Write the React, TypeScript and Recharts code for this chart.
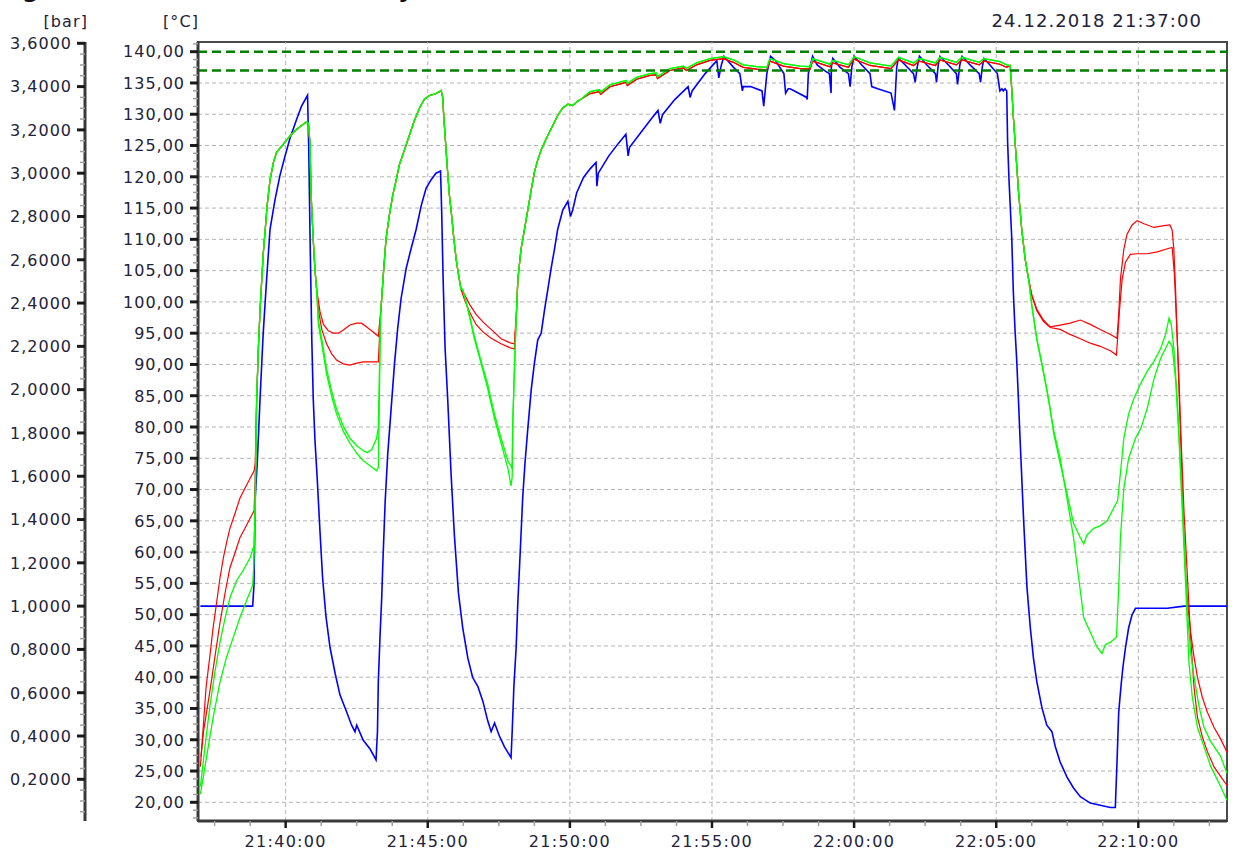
import React from 'react';
import {LineChart, Line, XAxis, YAxis, ReferenceLine, ReferenceArea} from 'recharts';

type Pair = [number, number];

// x: minutes after 21:37:00
const startClock = 21 * 3600 + 37 * 60;

// pressure [bar]
const pressure: Pair[] = [
  [0, 1.0], [1.84, 1.0], [1.886, 1.1], [1.93, 1.5], [2.0, 1.66], [2.1, 1.96], [2.21, 2.26],
  [2.33, 2.51], [2.45, 2.74], [2.63, 2.88], [2.8, 2.99], [2.98, 3.08], [3.15, 3.16], [3.39, 3.25],
  [3.56, 3.31], [3.77, 3.36], [3.81, 3.13], [3.86, 2.69], [3.92, 2.23], [3.97, 1.96], [4.03, 1.77],
  [4.11, 1.59], [4.21, 1.34], [4.3, 1.13], [4.42, 0.95], [4.56, 0.81], [4.74, 0.69], [4.91, 0.59],
  [5.15, 0.51], [5.32, 0.45], [5.44, 0.42], [5.5, 0.45], [5.73, 0.38], [5.97, 0.34], [6.18, 0.29],
  [6.23, 0.42], [6.26, 0.65], [6.32, 0.86], [6.38, 1.04], [6.42, 1.2], [6.5, 1.48], [6.59, 1.7],
  [6.71, 1.91], [6.83, 2.12], [6.94, 2.28], [7.06, 2.42], [7.24, 2.56], [7.41, 2.65], [7.59, 2.74],
  [7.77, 2.85], [7.94, 2.93], [8.12, 2.97], [8.29, 3.0], [8.45, 3.01], [8.49, 2.82], [8.54, 2.51],
  [8.61, 2.19], [8.7, 1.96], [8.82, 1.61], [8.94, 1.32], [9.08, 1.06], [9.23, 0.9], [9.41, 0.76],
  [9.58, 0.67], [9.76, 0.63], [9.94, 0.56], [10.11, 0.47], [10.23, 0.42], [10.35, 0.46], [10.52, 0.4],
  [10.7, 0.35], [10.93, 0.3], [10.97, 0.42], [11.03, 0.63], [11.11, 0.81], [11.17, 1.02], [11.26, 1.27],
  [11.34, 1.5], [11.42, 1.66], [11.52, 1.82], [11.64, 2.0], [11.75, 2.12], [11.87, 2.23], [11.99, 2.26],
  [12.11, 2.37], [12.22, 2.46], [12.34, 2.56], [12.46, 2.65], [12.57, 2.74], [12.75, 2.83], [12.93, 2.87],
  [13.02, 2.8], [13.1, 2.83], [13.24, 2.91], [13.48, 2.98], [13.71, 3.02], [13.92, 3.05], [13.95, 2.94],
  [14.0, 3.0], [14.37, 3.08], [14.72, 3.14], [14.97, 3.18], [15.05, 3.08], [15.1, 3.12], [15.51, 3.19],
  [15.86, 3.25], [16.1, 3.29], [16.18, 3.23], [16.26, 3.27], [16.69, 3.34], [17.16, 3.4], [17.23, 3.35],
  [17.3, 3.38], [17.76, 3.46], [18.17, 3.52], [18.24, 3.44], [18.33, 3.5], [18.42, 3.54], [18.75, 3.49],
  [18.98, 3.46], [19.07, 3.38], [19.1, 3.4], [19.36, 3.4], [19.76, 3.38], [19.82, 3.31], [19.93, 3.46],
  [20.06, 3.54], [20.23, 3.52], [20.53, 3.46], [20.59, 3.37], [20.68, 3.39], [20.75, 3.39], [21.33, 3.35],
  [21.35, 3.34], [21.39, 3.46], [21.54, 3.54], [21.7, 3.5], [22.0, 3.47], [22.13, 3.46], [22.19, 3.37],
  [22.2, 3.49], [22.25, 3.53], [22.5, 3.49], [22.8, 3.46], [22.86, 3.4], [22.92, 3.49], [23.0, 3.54],
  [23.27, 3.5], [23.56, 3.46], [23.62, 3.4], [23.83, 3.39], [24.3, 3.37], [24.42, 3.29], [24.5, 3.49],
  [24.56, 3.53], [24.8, 3.5], [25.09, 3.46], [25.15, 3.42], [25.22, 3.49], [25.3, 3.54], [25.56, 3.5],
  [25.86, 3.46], [25.9, 3.42], [25.96, 3.5], [26.02, 3.54], [26.32, 3.5], [26.6, 3.46], [26.64, 3.41],
  [26.72, 3.5], [26.8, 3.54], [27.08, 3.5], [27.4, 3.46], [27.45, 3.42], [27.51, 3.49], [27.57, 3.53],
  [27.78, 3.5], [28.04, 3.46], [28.13, 3.38], [28.2, 3.39], [28.25, 3.38], [28.31, 3.39], [28.37, 3.38],
  [28.4, 3.15], [28.45, 2.97], [28.55, 2.69], [28.6, 2.46], [28.66, 2.28], [28.72, 2.14], [28.78, 1.96],
  [28.84, 1.77], [28.9, 1.59], [28.96, 1.41], [29.02, 1.25], [29.08, 1.09], [29.2, 0.9], [29.31, 0.76],
  [29.43, 0.65], [29.61, 0.53], [29.78, 0.45], [29.9, 0.43], [29.96, 0.42], [30.08, 0.35], [30.25, 0.28],
  [30.49, 0.21], [30.72, 0.16], [30.96, 0.12], [31.31, 0.09], [31.66, 0.08], [32.02, 0.07], [32.19, 0.07],
  [32.25, 0.28], [32.31, 0.51], [32.39, 0.63], [32.46, 0.72], [32.55, 0.81], [32.66, 0.9], [32.78, 0.96],
  [32.9, 0.99], [33.08, 0.99], [34.02, 0.99], [34.61, 1.0], [35.19, 1.0], [36.12, 1.0],
];

// temperatures [°C], segments
const r1Start: Pair[] = [
  [0, 25.7], [0.1, 32.0], [0.2, 38.4], [0.33, 43.2], [0.45, 48.0], [0.57, 51.9], [0.69, 55.9],
  [0.81, 59.1], [0.92, 61.5], [1.04, 63.8], [1.22, 66.2], [1.39, 68.6], [1.57, 70.2], [1.75, 71.8],
  [1.89, 73.0], [1.93, 74.2],
];
const r2Start: Pair[] = [
  [0.02, 27.3], [0.11, 31.3], [0.33, 37.6], [0.51, 43.2], [0.69, 48.7], [0.87, 53.5], [1.04, 57.5],
  [1.22, 59.9], [1.39, 62.3], [1.57, 63.8], [1.75, 65.4], [1.89, 66.6], [1.93, 72.0],
];
const g1Start: Pair[] = [
  [0, 22.5], [0.16, 28.9], [0.33, 35.2], [0.51, 40.8], [0.69, 45.6], [0.87, 49.5], [1.04, 52.7],
  [1.28, 55.5], [1.51, 57.1], [1.75, 59.1], [1.89, 61.1], [1.93, 70.0],
];
const g2Start: Pair[] = [
  [0, 21.3], [0.22, 27.3], [0.45, 33.6], [0.69, 39.2], [0.92, 43.2], [1.16, 46.4], [1.39, 49.5],
  [1.63, 52.3], [1.84, 54.7], [1.88, 58.0], [1.93, 66.0],
];
const rise1: Pair[] = [
  [1.98, 84.5], [2.04, 92.5], [2.1, 98.8], [2.16, 103.6], [2.21, 107.6], [2.28, 111.5], [2.35, 115.5],
  [2.45, 119.5], [2.57, 122.3], [2.68, 123.9], [2.86, 124.9], [3.04, 125.9], [3.21, 126.8], [3.39, 127.6],
  [3.56, 128.2], [3.74, 128.8], [3.8, 128.6], [3.86, 125.1], [3.89, 117.9], [3.92, 114.7], [3.97, 110.0],
  [4.03, 105.2], [4.09, 102.0],
];
const r1Hold1: Pair[] = [
  [4.21, 98.4], [4.33, 96.4], [4.5, 95.4], [4.68, 95.0], [4.85, 95.0], [5.03, 95.5], [5.26, 96.3],
  [5.5, 96.6], [5.67, 96.6], [5.85, 96.0], [6.08, 95.2], [6.26, 94.5], [6.3, 96.4],
];
const r2Hold1: Pair[] = [
  [4.15, 98.8], [4.27, 95.6], [4.44, 93.3], [4.62, 91.7], [4.79, 90.7], [5.03, 90.1], [5.26, 89.9],
  [5.5, 90.2], [5.73, 90.4], [6.03, 90.4], [6.26, 90.4], [6.3, 94.1],
];
const g1Hold1: Pair[] = [
  [4.15, 97.2], [4.27, 94.1], [4.44, 89.3], [4.62, 85.7], [4.79, 82.9], [5.03, 80.1], [5.26, 78.2],
  [5.5, 77.0], [5.73, 76.2], [5.87, 75.9], [6.03, 76.4], [6.2, 78.2], [6.26, 80.0],
];
const g2Hold1: Pair[] = [
  [4.15, 96.4], [4.27, 93.3], [4.44, 88.5], [4.62, 84.9], [4.79, 82.1], [5.03, 79.3], [5.26, 77.4],
  [5.5, 75.8], [5.73, 74.6], [5.97, 73.8], [6.2, 73.0], [6.26, 73.5],
];
const rise2: Pair[] = [
  [6.34, 98.0], [6.45, 105.2], [6.53, 110.0], [6.65, 113.9], [6.77, 117.1], [6.89, 119.5], [7.0, 121.9],
  [7.18, 124.3], [7.35, 126.6], [7.53, 129.0], [7.71, 131.0], [7.88, 132.4], [8.06, 133.0], [8.23, 133.2],
  [8.41, 133.6], [8.47, 133.8], [8.53, 132.6], [8.56, 129.8], [8.62, 125.9], [8.68, 121.9], [8.76, 117.1],
  [8.82, 114.7], [8.92, 110.0], [9.0, 106.8], [9.08, 104.4], [9.17, 102.0],
];
const r1Hold2: Pair[] = [
  [9.29, 101.2], [9.47, 99.6], [9.7, 98.0], [9.94, 96.8], [10.23, 95.6], [10.58, 94.1], [10.93, 93.4],
  [11.05, 93.3], [11.1, 97.2],
];
const r2Hold2: Pair[] = [
  [9.29, 100.4], [9.47, 98.4], [9.7, 96.4], [9.94, 95.2], [10.23, 94.2], [10.58, 93.3], [10.93, 92.6],
  [11.05, 92.5], [11.1, 96.5],
];
const g1Hold2: Pair[] = [
  [9.23, 102.0], [9.41, 98.8], [9.64, 94.1], [9.88, 90.1], [10.11, 86.1], [10.35, 81.3], [10.58, 77.4],
  [10.82, 73.4], [10.93, 70.6], [10.97, 72.0], [10.99, 80.5], [11.05, 89.3],
];
const g2Hold2: Pair[] = [
  [9.23, 102.0], [9.41, 99.0], [9.64, 94.5], [9.88, 90.5], [10.11, 86.8], [10.35, 82.0], [10.58, 78.2],
  [10.82, 74.6], [10.97, 73.4], [10.99, 80.5], [11.05, 89.3],
];
const rise3: Pair[] = [
  [11.11, 97.2], [11.17, 103.6], [11.28, 108.4], [11.4, 111.5], [11.52, 114.7], [11.64, 117.9],
  [11.75, 120.7], [11.87, 122.7], [11.99, 124.3], [12.11, 125.5], [12.22, 126.6], [12.4, 128.2],
  [12.57, 129.8], [12.75, 131.0], [12.93, 131.6], [13.1, 131.4], [13.28, 132.1], [13.39, 132.4],
];
const plateauGreen: Pair[] = [
  [13.71, 133.6], [14.04, 133.9], [14.08, 133.5], [14.41, 134.7], [14.98, 135.4], [15.02, 134.9],
  [15.35, 135.9], [15.82, 136.5], [16.04, 136.6], [16.08, 136.0], [16.52, 137.3], [16.99, 137.7],
  [17.1, 137.3], [17.46, 138.2], [17.93, 138.9], [18.4, 139.2], [18.75, 138.7], [19.1, 137.9],
  [19.57, 137.6], [19.93, 137.5], [20.04, 138.9], [20.51, 138.1], [21.1, 137.7], [21.45, 137.6],
  [21.54, 138.9], [22.15, 138.0], [22.25, 138.6], [22.8, 137.9], [23.0, 139.2], [23.56, 138.2],
  [24.3, 137.7], [24.56, 139.1], [25.09, 138.2], [25.3, 138.9], [25.86, 138.2], [26.02, 139.1],
  [26.6, 138.3], [26.8, 139.1], [27.4, 138.3], [27.57, 138.9], [28.13, 138.4], [28.37, 137.9],
];
const plateauRed: Pair[] = [
  [13.71, 133.3], [14.04, 133.6], [14.08, 133.2], [14.41, 134.4], [14.98, 135.1], [15.02, 134.6],
  [15.35, 135.6], [15.82, 136.2], [16.04, 136.3], [16.08, 135.7], [16.52, 137.0], [16.99, 137.4],
  [17.1, 137.0], [17.46, 137.9], [17.93, 138.6], [18.4, 138.9], [18.75, 138.3], [19.1, 137.5],
  [19.57, 137.2], [19.93, 137.1], [20.04, 138.5], [20.51, 137.7], [21.1, 137.3], [21.45, 137.2],
  [21.54, 138.5], [22.15, 137.6], [22.25, 138.2], [22.8, 137.5], [23.0, 138.8], [23.56, 137.8],
  [24.3, 137.3], [24.56, 138.7], [25.09, 137.8], [25.3, 138.5], [25.86, 137.8], [26.02, 138.7],
  [26.6, 137.9], [26.8, 138.7], [27.4, 137.9], [27.57, 138.5], [28.13, 138.0], [28.37, 137.5],
];
const drop: Pair[] = [
  [28.49, 137.8], [28.55, 133.8], [28.6, 129.8], [28.66, 125.8], [28.72, 121.9], [28.78, 117.9],
  [28.84, 114.7], [28.9, 111.5], [29.02, 106.8], [29.14, 103.6],
];
const r1End: Pair[] = [
  [29.25, 101.2], [29.43, 98.8], [29.66, 97.1], [29.9, 96.0], [30.25, 96.3], [30.6, 96.6], [30.96, 97.1],
  [31.31, 96.4], [31.66, 95.6], [32.02, 94.8], [32.25, 94.2], [32.31, 98.0], [32.37, 103.6], [32.49, 108.4],
  [32.6, 110.8], [32.78, 112.3], [32.96, 113.0], [33.2, 112.5], [33.55, 111.9], [33.9, 112.2], [34.11, 112.3],
  [34.19, 111.5], [34.25, 108.4], [34.31, 102.0], [34.37, 94.1], [34.43, 86.1], [34.49, 78.2], [34.55, 70.2],
  [34.61, 62.3], [34.67, 55.9], [34.73, 51.9], [34.84, 47.2], [34.96, 43.2], [35.08, 40.0], [35.25, 36.8],
  [35.43, 34.4], [35.66, 32.0], [35.9, 30.1], [36.12, 28.0],
];
const r2End: Pair[] = [
  [29.25, 101.0], [29.43, 98.6], [29.66, 96.9], [29.9, 95.9], [30.25, 95.6], [30.6, 94.8], [30.96, 94.1],
  [31.31, 93.4], [31.66, 92.9], [32.02, 92.2], [32.23, 91.5], [32.27, 94.1], [32.34, 98.8], [32.43, 103.6],
  [32.55, 106.4], [32.72, 107.6], [32.96, 107.7], [33.31, 107.7], [33.67, 108.0], [34.02, 108.5],
  [34.19, 108.7], [34.27, 104.4], [34.34, 97.2], [34.43, 87.7], [34.49, 79.7], [34.61, 66.2], [34.73, 55.9],
  [34.84, 46.4], [34.96, 38.4], [35.08, 33.6], [35.25, 30.5], [35.43, 28.1], [35.66, 25.7], [35.9, 24.1],
  [36.12, 22.7],
];
const g1End: Pair[] = [
  [29.25, 99.6], [29.43, 94.1], [29.61, 90.1], [29.78, 86.1], [29.9, 82.9], [30.02, 79.0], [30.25, 74.2],
  [30.49, 69.4], [30.72, 64.6], [30.96, 62.3], [31.08, 61.3], [31.19, 62.7], [31.43, 63.8], [31.66, 64.2],
  [31.9, 65.0], [32.13, 67.0], [32.27, 68.2], [32.37, 72.6], [32.49, 78.2], [32.66, 82.1], [32.84, 84.5],
  [33.08, 86.9], [33.31, 88.9], [33.55, 90.5], [33.78, 92.5], [33.96, 94.8], [34.08, 97.4], [34.16, 96.4],
  [34.25, 92.5], [34.37, 84.5], [34.49, 73.4], [34.61, 62.3], [34.73, 50.3], [34.84, 44.0], [34.96, 40.0],
  [35.14, 35.2], [35.31, 32.0], [35.55, 29.7], [35.9, 27.3], [36.12, 24.6],
];
const g2End: Pair[] = [
  [29.25, 99.4], [29.43, 93.9], [29.61, 89.9], [29.78, 85.9], [29.9, 82.7], [30.02, 79.5], [30.25, 75.0],
  [30.49, 68.6], [30.72, 62.3], [30.9, 55.9], [31.08, 49.5], [31.31, 47.2], [31.55, 44.8], [31.72, 43.8],
  [31.84, 45.2], [32.02, 45.6], [32.23, 46.4], [32.31, 54.3], [32.37, 62.3], [32.49, 70.2], [32.66, 75.0],
  [32.9, 78.2], [33.08, 79.7], [33.31, 82.9], [33.55, 87.7], [33.78, 90.9], [34.08, 93.7], [34.19, 92.9],
  [34.31, 87.7], [34.43, 78.2], [34.55, 66.2], [34.67, 54.3], [34.78, 42.4], [34.9, 36.8], [35.08, 32.0],
  [35.31, 28.9], [35.55, 25.7], [35.9, 22.5], [36.12, 20.3],
];

const limitTemps = [140, 137];
const gridTemps = [20, 25, 30, 35, 40, 45, 50, 55, 60, 65, 70, 75, 80, 85, 90, 95, 100, 105, 110, 115, 120, 125, 130, 135];
const gridMinutes = [3, 8, 13, 18, 23, 28, 33];

const xDomain: [number, number] = [-0.084, 36.12];
const tempDomain: [number, number] = [17.01, 141.55];
const barDomain: [number, number] = [0.0074, 3.606];

const xTicks = Array.from({length: 29}, (_, i) => 0.5 + i * 1.25);
const tempTicks = Array.from({length: 100}, (_, i) => 17.5 + i * 1.25);
const barTicks = Array.from({length: 72}, (_, i) => ((i + 1) * 5) / 100);

const rows = (pairs: Pair[]) => pairs.map(([m, v]) => ({m, v}));

const red1 = rows([...r1Start, ...rise1, ...r1Hold1, ...rise2, ...r1Hold2, ...rise3, ...plateauRed, ...drop, ...r1End]);
const red2 = rows([...r2Start, ...rise1, ...r2Hold1, ...rise2, ...r2Hold2, ...rise3, ...plateauRed, ...drop, ...r2End]);
const green1 = rows([...g1Start, ...rise1, ...g1Hold1, ...rise2, ...g1Hold2, ...rise3, ...plateauGreen, ...drop, ...g1End]);
const green2 = rows([...g2Start, ...rise1, ...g2Hold1, ...rise2, ...g2Hold2, ...rise3, ...plateauGreen, ...drop, ...g2End]);
const blue = rows(pressure);

// axis ids: recharts stacks left axes by id, the first one sits next to the plot
const TEMP = 'aTemp';
const BAR = 'bPressure';

const FONT = '"DejaVu Sans", Verdana, sans-serif';
const TEXT = '#22223a';
const TICK_SIZE = 8;
const TICK_MARGIN = 5;

const fmtTemp = (v: number) => v.toFixed(2).replace('.', ',');
const fmtBar = (v: number) => v.toFixed(4).replace('.', ',');
const fmtTime = (m: number) => {
  const s = Math.round(startClock + m * 60);
  const p = (n: number) => String(n).padStart(2, '0');
  return `${p(Math.floor(s / 3600))}:${p(Math.floor((s % 3600) / 60))}:${p(s % 60)}`;
};
const isTempMajor = (v: number) => Math.abs(v / 5 - Math.round(v / 5)) < 1e-6;
const isBarMajor = (v: number) => Math.round(v * 100) % 20 === 0;
const isTimeMajor = (v: number) => Math.abs((v - 3) / 5 - Math.round((v - 3) / 5)) < 1e-6;

function YTick(props: any) {
  const {x, y, payload, fmt, isMajor} = props;
  const axisX = x + TICK_SIZE + TICK_MARGIN;
  const major = isMajor(payload.value);
  return (
    <g>
      <line
        x1={axisX - (major ? 8 : 5)}
        x2={axisX}
        y1={y}
        y2={y}
        stroke={major ? '#1a1a1a' : '#a0a0a0'}
        strokeWidth={major ? 3 : 1.5}
      />
      {major && (
        <text x={x} y={y} dy={5.8} textAnchor="end" fill={TEXT} fontFamily={FONT} fontSize={16} letterSpacing={1}>
          {fmt(payload.value)}
        </text>
      )}
    </g>
  );
}

function XTick(props: any) {
  const {x, y, payload} = props;
  const axisY = y - TICK_SIZE - 2;
  const major = isTimeMajor(payload.value);
  return (
    <g>
      <line
        x1={x}
        x2={x}
        y1={axisY}
        y2={axisY + (major ? 7 : 5)}
        stroke={major ? '#1a1a1a' : '#a0a0a0'}
        strokeWidth={major ? 2.5 : 1.5}
      />
      {major && (
        <text x={x} y={y + 16} textAnchor="middle" fill={TEXT} fontFamily={FONT} fontSize={16} letterSpacing={1.3}>
          {fmtTime(payload.value)}
        </text>
      )}
    </g>
  );
}

export default function App() {
  return (
    <div style={{position: 'absolute', left: 0, top: 0, width: 1239, height: 852, background: '#fff'}}>
      <LineChart width={1239} height={852} margin={{top: 42, right: 12, bottom: 0, left: 0}}>
        <XAxis
          type="number"
          dataKey="m"
          domain={xDomain}
          allowDataOverflow
          ticks={xTicks}
          interval={0}
          height={31}
          tickSize={TICK_SIZE}
          tickMargin={2}
          tickLine={false}
          axisLine={{stroke: '#3a3a3a', strokeWidth: 3}}
          tick={(p: any) => <XTick {...p} />}
        />
        <YAxis
          yAxisId={TEMP}
          type="number"
          domain={tempDomain}
          allowDataOverflow
          ticks={tempTicks}
          interval={0}
          width={113}
          tickSize={TICK_SIZE}
          tickMargin={TICK_MARGIN}
          tickLine={false}
          axisLine={{stroke: '#3a3a3a', strokeWidth: 3}}
          tick={(p: any) => <YTick {...p} fmt={fmtTemp} isMajor={isTempMajor} />}
        />
        <YAxis
          yAxisId={BAR}
          type="number"
          domain={barDomain}
          allowDataOverflow
          ticks={barTicks}
          interval={0}
          width={85}
          tickSize={TICK_SIZE}
          tickMargin={TICK_MARGIN}
          tickLine={false}
          axisLine={{stroke: '#3a3a3a', strokeWidth: 3}}
          tick={(p: any) => <YTick {...p} fmt={fmtBar} isMajor={isBarMajor} />}
        />
        {gridTemps.map((t) => (
          <ReferenceLine key={'gy' + t} yAxisId={TEMP} y={t} stroke="#b4b4b4" strokeDasharray="4 3" />
        ))}
        {gridMinutes.map((m) => (
          <ReferenceLine key={'gx' + m} yAxisId={TEMP} x={m} stroke="#b4b4b4" strokeDasharray="4 3" />
        ))}
        <ReferenceArea
          yAxisId={TEMP}
          x1={xDomain[0]}
          x2={xDomain[1]}
          y1={tempDomain[0]}
          y2={tempDomain[1]}
          fill="none"
          stroke="#4a4a4a"
          strokeWidth={2}
        />
        <Line yAxisId={BAR} data={blue} dataKey="v" type="linear" stroke="#0000ff" strokeWidth={1.6} dot={false} isAnimationActive={false} />
        <Line yAxisId={TEMP} data={red1} dataKey="v" type="linear" stroke="#ff0000" strokeWidth={1.2} dot={false} isAnimationActive={false} />
        <Line yAxisId={TEMP} data={red2} dataKey="v" type="linear" stroke="#ff0000" strokeWidth={1.2} dot={false} isAnimationActive={false} />
        <Line yAxisId={TEMP} data={green1} dataKey="v" type="linear" stroke="#00ff00" strokeWidth={1.3} dot={false} isAnimationActive={false} />
        <Line yAxisId={TEMP} data={green2} dataKey="v" type="linear" stroke="#00ff00" strokeWidth={1.3} dot={false} isAnimationActive={false} />
        {limitTemps.map((t) => (
          <ReferenceLine key={'lim' + t} yAxisId={TEMP} y={t} stroke="#008000" strokeWidth={2.5} strokeDasharray="9 5" />
        ))}
      </LineChart>
      <svg width={1239} height={60} style={{position: 'absolute', left: 0, top: 0, pointerEvents: 'none'}}>
        <text x={22} y={-3.5} fontFamily={FONT} fontWeight="bold" fontSize={24} fill="#111">g</text>
        <text x={398} y={-3.5} fontFamily={FONT} fontWeight="bold" fontSize={24} fill="#111">y</text>
        <text x={88} y={27} textAnchor="end" fontFamily={FONT} fontSize={16} letterSpacing={1.1} fill={TEXT}>[bar]</text>
        <text x={163} y={27} fontFamily={FONT} fontSize={16} letterSpacing={1.1} fill={TEXT}>[°C]</text>
        <text x={1202} y={26.5} textAnchor="end" fontFamily={FONT} fontSize={18} letterSpacing={1.1} fill={TEXT}>
          24.12.2018 21:37:00
        </text>
      </svg>
    </div>
  );
}
